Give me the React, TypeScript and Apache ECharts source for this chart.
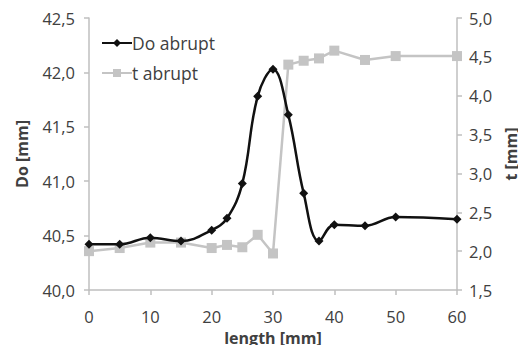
import React, { useEffect, useRef } from "react";
import * as echarts from "echarts";

const lengths = [0, 5, 10, 15, 20, 22.5, 25, 27.5, 30, 32.5, 35, 37.5, 40, 45, 50, 60];
const doAbrupt = [40.42, 40.42, 40.48, 40.45, 40.55, 40.66, 40.98, 41.78, 42.03, 41.61, 40.89, 40.45, 40.6, 40.59, 40.67, 40.65];
const tAbrupt = [2.0, 2.04, 2.11, 2.11, 2.04, 2.08, 2.05, 2.21, 1.97, 4.4, 4.45, 4.48, 4.58, 4.46, 4.51, 4.51];

const FONT = "'Open Sans', 'Noto Sans', sans-serif";
const TXT = "#404040";
const AX = "#bfbfbf";
const fmt = (d: number) => (v: number) => v.toFixed(d).replace(".", ",");

export default function App() {
  const ref = useRef<HTMLDivElement>(null);
  useEffect(() => {
    if (!ref.current) return;
    const chart = echarts.init(ref.current, undefined, { renderer: "svg" });
    const axisCommon = {
      axisLine: { show: true, lineStyle: { color: AX, width: 1.5 } },
      axisTick: { show: true, length: 5, lineStyle: { color: AX, width: 1.5 } },
      splitLine: { show: false },
      axisLabel: { color: TXT, fontSize: 16.5, fontFamily: FONT },
      nameTextStyle: { color: TXT, fontSize: 16, lineHeight: 16, fontWeight: "bold", fontFamily: FONT },
    };
    chart.setOption({
      animation: false,
      textStyle: { fontFamily: FONT },
      grid: { left: 89, right: 61, top: 18, bottom: 55, outerBoundsMode: "none", containLabel: false },
      legend: {
        orient: "vertical",
        left: 96,
        top: 29,
        itemGap: 12,
        itemWidth: 30,
        itemHeight: 10,
        textStyle: { color: TXT, fontSize: 17.5, fontFamily: FONT, padding: [0, 0, 0, -5] },
        data: ["Do abrupt", "t abrupt"],
      },
      xAxis: {
        type: "value",
        min: 0,
        max: 60,
        interval: 10,
        name: "length [mm]",
        nameLocation: "middle",
        nameGap: 29,
        ...axisCommon,
        axisLabel: { ...axisCommon.axisLabel, margin: 18 },
      },
      yAxis: [
        {
          type: "value",
          min: 40,
          max: 42.5,
          interval: 0.5,
          position: "left",
          name: "Do [mm]",
          nameLocation: "middle",
          nameGap: 59,
          ...axisCommon,
          axisLabel: { ...axisCommon.axisLabel, margin: 14, formatter: fmt(1) },
        },
        {
          type: "value",
          min: 1.5,
          max: 5,
          interval: 0.5,
          position: "right",
          name: "t [mm]",
          nameLocation: "middle",
          nameGap: 38,
          nameRotate: 90,
          ...axisCommon,
          axisLabel: { ...axisCommon.axisLabel, margin: 12, formatter: fmt(1) },
        },
      ],
      series: [
        {
          name: "t abrupt",
          type: "line",
          yAxisIndex: 1,
          data: lengths.map((x, i) => [x, tAbrupt[i]]),
          symbol: "rect",
          symbolSize: 10,
          itemStyle: { color: "#c4c4c4" },
          lineStyle: { color: "#c4c4c4", width: 2.5 },
          z: 2,
        },
        {
          name: "Do abrupt",
          type: "line",
          yAxisIndex: 0,
          data: lengths.map((x, i) => [x, doAbrupt[i]]),
          smooth: 0.4,
          symbol: "diamond",
          symbolSize: 9,
          itemStyle: { color: "#111111" },
          lineStyle: { color: "#111111", width: 2.5 },
          z: 3,
        },
      ],
    });
    return () => chart.dispose();
  }, []);
  return (
    <div
      ref={ref}
      style={{ position: "absolute", left: 0, top: 0, width: 518, height: 345, overflow: "hidden" }}
    />
  );
}
